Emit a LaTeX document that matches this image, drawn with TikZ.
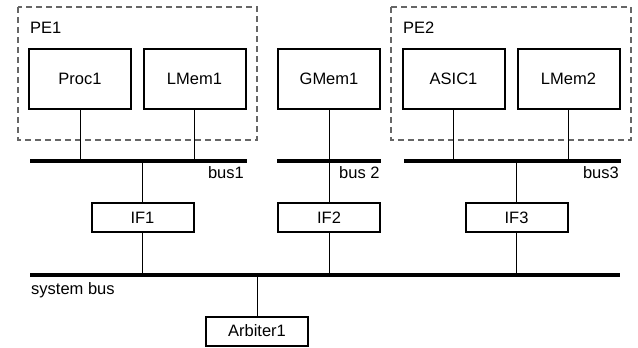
\documentclass[tikz,border=0pt]{standalone}
\usepackage{fontspec}
\setmainfont{Liberation Sans}
\begin{document}
\begin{tikzpicture}[x=1pt,y=-1pt,
  font=\fontsize{16.5}{19}\selectfont,
  unit/.style={draw,line width=2pt,minimum width=102pt,minimum height=60pt,inner sep=0pt},
  ifbox/.style={draw,line width=2pt,minimum width=102pt,minimum height=29pt,inner sep=0pt},
  pe/.style={draw=black!60,dashed,dash pattern=on 6pt off 4pt,line width=1.2pt},
  bus/.style={line width=4pt},
  wire/.style={line width=1pt}]
\useasboundingbox (0,0) rectangle (638,348);
% PE groups
\draw[pe] (18,7) rectangle (257,140);
\draw[pe] (391,7) rectangle (631,140);
\node[anchor=base west,inner sep=0pt] (pe1) at (30,33) {PE1};
\node[anchor=base west,inner sep=0pt] (pe2) at (403,33) {PE2};
% units
\node[unit] (proc1) at (80,79) {Proc1};
\node[unit] (lmem1) at (194.5,79) {LMem1};
\node[unit] (gmem1) at (329,79) {GMem1};
\node[unit] (asic1) at (453.5,79) {ASIC1};
\node[unit] (lmem2) at (568.5,79) {LMem2};
% buses
\coordinate (b1l) at (30,161); \coordinate (b1r) at (247,161);
\coordinate (b2l) at (277,161); \coordinate (b2r) at (381,161);
\coordinate (b3l) at (404,161); \coordinate (b3r) at (621,161);
\coordinate (sbl) at (30,275); \coordinate (sbr) at (620,275);
\draw[bus] (b1l) -- (b1r);
\draw[bus] (b2l) -- (b2r);
\draw[bus] (b3l) -- (b3r);
\draw[bus] (sbl) -- (sbr);
\node[anchor=base east,inner sep=0pt] (lb1) at (244,178) {bus1};
\node[anchor=base west,inner sep=0pt] (lb2) at (339,178) {bus 2};
\node[anchor=base east,inner sep=0pt] (lb3) at (619,178) {bus3};
\node[anchor=base west,inner sep=0pt] (lsb) at (31,294) {system bus};
% interfaces
\node[ifbox] (if1) at (142.5,217.5) {IF1};
\node[ifbox] (if2) at (329,217.5) {IF2};
\node[ifbox] (if3) at (516.5,217.5) {IF3};
\node[ifbox] (arb) at (257,331) {Arbiter1};
% wires
\draw[wire] (proc1.south) -- (proc1.south |- b1l);
\draw[wire] (lmem1.south) -- (lmem1.south |- b1l);
\draw[wire] (gmem1.south) -- (gmem1.south |- b2l);
\draw[wire] (asic1.south) -- (asic1.south |- b3l);
\draw[wire] (lmem2.south) -- (lmem2.south |- b3l);
\draw[wire] (if1.north) -- (if1.north |- b1l);
\draw[wire] (if2.north) -- (if2.north |- b2l);
\draw[wire] (if3.north) -- (if3.north |- b3l);
\draw[wire] (if1.south) -- (if1.south |- sbl);
\draw[wire] (if2.south) -- (if2.south |- sbl);
\draw[wire] (if3.south) -- (if3.south |- sbl);
\draw[wire] (arb.north) -- (arb.north |- sbl);
\end{tikzpicture}
\end{document}
